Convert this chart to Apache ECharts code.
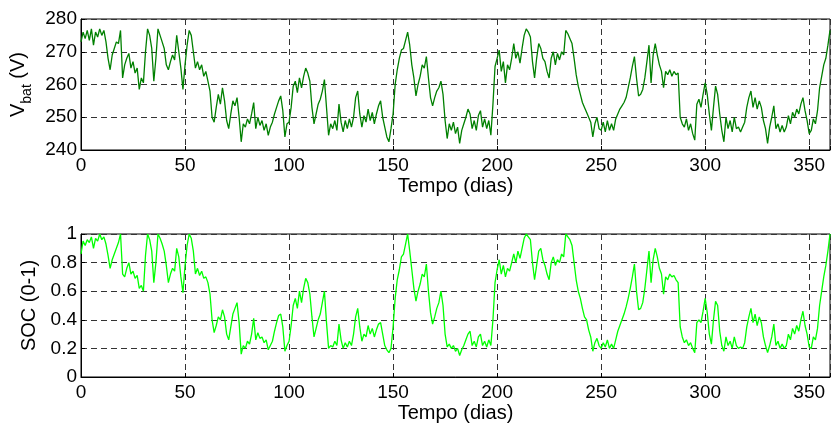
<!DOCTYPE html>
<html>
<head>
<meta charset="utf-8">
<script src="https://cdn.jsdelivr.net/npm/echarts@6/dist/echarts.min.js"></script>
<style>
html, body { margin: 0; padding: 0; background: #fff; }
#chart { width: 833px; height: 426px; }
</style>
</head>
<body>
<div id="chart"></div>
<script>
// tensão da bateria (V), um valor por dia, dia 0..360
var vbat = [
  273, 276, 274, 276.5, 273.5, 277, 272, 276, 274.5, 277,
  275, 276.5, 273, 268, 264.5, 269, 271, 273, 272.5, 276.5,
  262, 266, 268, 269.5, 265, 267, 263.5, 265, 258.5, 262,
  260.5, 270, 277, 275, 271, 261, 268, 277, 275, 273,
  271, 266, 264.5, 267, 269, 267.5, 275, 270, 265, 258.5,
  266, 272, 276.5, 275, 270, 265, 267, 264.5, 266, 262.5,
  264, 261, 258, 250, 248.5, 253, 257, 254, 259, 255,
  249, 246.5, 251, 255, 253.5, 256, 250, 242.5, 248, 247,
  249.5, 248, 251, 254.5, 246.5, 250, 247.5, 249, 246, 248,
  244.5, 247, 248.5, 251, 253, 255, 256.5, 252, 244, 248,
  248.5, 253, 259.5, 261, 257.5, 262, 259, 262.5, 265, 263.5,
  261, 253, 248, 251, 254, 255.5, 258, 261.5, 253, 244.5,
  248, 246.5, 249, 246, 254, 248.5, 245.5, 249, 246.5, 249.5,
  247, 250, 256, 258, 251, 247, 250.5, 248.5, 252.5, 249,
  251.5, 248, 251, 253.5, 255, 250, 247, 244, 242.5, 246.5,
  251, 260, 264.5, 268, 270.5, 271, 273.5, 276, 272, 266,
  262, 256.5, 260, 262.5, 266, 265, 268.5, 262, 256, 253.5,
  256, 258, 259, 261, 257, 249, 243.5, 248, 246, 248.5,
  245, 247, 242, 246, 248, 250, 252.5, 251, 246.5, 249,
  246, 250.5, 252, 247, 249.5, 246.5, 249, 244.5, 254, 265.5,
  268, 270.5, 264, 267, 260.5, 266, 264.5, 268, 272.5, 268,
  270, 266.5, 271, 275, 277, 276, 274.5, 267, 262, 268,
  272.5, 271, 268, 267, 264, 262, 268, 270, 266, 269.5,
  267.5, 270, 269, 276.5, 275.5, 274, 272.5, 268, 263, 259.5,
  257, 254.5, 253, 251.5, 250, 248.5, 244, 248, 250, 246.5,
  246, 248.5, 245.5, 249, 246, 248, 246, 249.5, 251, 252.5,
  253.5, 254.5, 256, 259, 262, 265.5, 268.5, 262, 256.5, 257,
  258.5, 262, 267, 272, 260.5, 269, 272.5, 269, 266, 264,
  259, 264, 263, 264.5, 262.5, 264, 263, 263.5, 250, 248,
  247, 249.5, 246, 248, 245, 243, 254, 255.5, 253, 257,
  260.5, 257, 251, 246, 253, 259.5, 257, 251, 246, 242.5,
  250, 246.5, 249, 245.5, 250, 246.5, 247, 245.5, 247, 248.5,
  253, 256, 258, 253, 256, 252.5, 255, 253, 249, 246.5,
  242, 247, 250, 253.5, 246.5, 248, 245.5, 247.5, 245.5, 247,
  250.5, 248, 251.5, 250, 252.5, 251, 254, 256, 252, 249,
  245, 246, 249.5, 248, 252, 259, 262.5, 266, 268, 272,
  276.5
];

// estado de carga (0-1), um valor por dia, dia 0..360
var soc = [
  0.86, 0.95, 0.92, 0.96, 0.94, 0.98, 0.90, 0.97, 0.95, 1.00,
  0.96, 0.98, 0.93, 0.85, 0.76, 0.82, 0.86, 0.90, 0.94, 1.00,
  0.72, 0.70, 0.76, 0.80, 0.72, 0.74, 0.69, 0.71, 0.62, 0.64,
  0.60, 0.85, 1.00, 0.96, 0.88, 0.66, 0.80, 1.00, 0.97, 0.93,
  0.88, 0.78, 0.66, 0.72, 0.76, 0.74, 0.90, 0.84, 0.70, 0.59,
  0.78, 0.92, 1.00, 0.97, 0.88, 0.72, 0.76, 0.71, 0.74, 0.69,
  0.70, 0.66, 0.58, 0.40, 0.31, 0.36, 0.42, 0.40, 0.47, 0.42,
  0.30, 0.26, 0.35, 0.44, 0.48, 0.52, 0.38, 0.16, 0.22, 0.20,
  0.25, 0.23, 0.30, 0.41, 0.26, 0.31, 0.27, 0.28, 0.24, 0.26,
  0.19, 0.22, 0.25, 0.32, 0.38, 0.43, 0.44, 0.35, 0.18, 0.22,
  0.25, 0.36, 0.50, 0.55, 0.48, 0.60, 0.52, 0.62, 0.69, 0.66,
  0.58, 0.42, 0.28, 0.34, 0.40, 0.44, 0.52, 0.60, 0.38, 0.20,
  0.22, 0.21, 0.25, 0.22, 0.37, 0.26, 0.20, 0.24, 0.21, 0.25,
  0.22, 0.30, 0.42, 0.48, 0.35, 0.25, 0.30, 0.28, 0.36, 0.30,
  0.34, 0.28, 0.33, 0.37, 0.38, 0.30, 0.22, 0.19, 0.17, 0.20,
  0.35, 0.55, 0.68, 0.75, 0.84, 0.86, 0.93, 1.00, 0.88, 0.75,
  0.62, 0.53, 0.60, 0.65, 0.72, 0.70, 0.79, 0.60, 0.45, 0.37,
  0.42, 0.48, 0.52, 0.60, 0.50, 0.30, 0.21, 0.23, 0.20, 0.22,
  0.18, 0.20, 0.15, 0.19, 0.22, 0.26, 0.30, 0.32, 0.22, 0.25,
  0.21, 0.28, 0.30, 0.22, 0.25, 0.21, 0.26, 0.22, 0.40, 0.66,
  0.75, 0.82, 0.72, 0.78, 0.70, 0.76, 0.74, 0.80, 0.86, 0.80,
  0.88, 0.83, 0.90, 0.97, 1.00, 0.98, 0.96, 0.80, 0.68, 0.78,
  0.88, 0.90, 0.82, 0.78, 0.72, 0.68, 0.80, 0.84, 0.78, 0.82,
  0.80, 0.86, 0.84, 1.00, 0.98, 0.96, 0.92, 0.80, 0.68, 0.60,
  0.55, 0.48, 0.42, 0.40, 0.33, 0.28, 0.18, 0.24, 0.27, 0.22,
  0.20, 0.24, 0.21, 0.26, 0.20, 0.23, 0.20, 0.26, 0.32, 0.36,
  0.40, 0.44, 0.49, 0.55, 0.62, 0.70, 0.79, 0.60, 0.47, 0.48,
  0.52, 0.62, 0.75, 0.88, 0.66, 0.82, 0.90, 0.84, 0.76, 0.72,
  0.58, 0.70, 0.68, 0.72, 0.70, 0.71, 0.68, 0.66, 0.35, 0.28,
  0.24, 0.26, 0.22, 0.24, 0.20, 0.17, 0.38, 0.40, 0.38, 0.46,
  0.55, 0.45, 0.30, 0.23, 0.40, 0.53, 0.50, 0.32, 0.22, 0.18,
  0.28, 0.22, 0.25, 0.20, 0.28, 0.22, 0.20, 0.21, 0.20, 0.24,
  0.35, 0.42, 0.48, 0.38, 0.44, 0.36, 0.42, 0.38, 0.28, 0.22,
  0.17, 0.22, 0.28, 0.37, 0.22, 0.25, 0.20, 0.23, 0.20, 0.22,
  0.30, 0.26, 0.34, 0.30, 0.36, 0.32, 0.40, 0.46, 0.36, 0.30,
  0.21, 0.20, 0.28, 0.26, 0.34, 0.50, 0.60, 0.70, 0.78, 0.88,
  1.00
];

var xTicks = [0, 360, 50];      // min, max, passo
var vTicks = [240, 280, 10];
var socTicks = [0, 1, 0.2];

var font = 'Liberation Sans, Arial, Helvetica, sans-serif';

function pares(arr) {
  return arr.map(function (v, i) { return [i, v]; });
}

function eixoX(idx) {
  return {
    gridIndex: idx,
    type: 'value',
    min: xTicks[0], max: xTicks[1], interval: xTicks[2],
    name: 'Tempo (dias)',
    nameLocation: 'middle',
    nameGap: 26,
    nameTextStyle: { fontFamily: font, fontSize: 20, color: '#000', lineHeight: 20 },
    axisLine: { lineStyle: { color: '#000', width: 1 } },
    axisTick: { inside: true, length: 4, lineStyle: { color: '#000' } },
    axisLabel: { fontFamily: font, fontSize: 19, color: '#000', margin: 6,
      formatter: function (v) { return v > 355 ? '' : v; } },
    splitLine: { show: true, lineStyle: { color: '#333', type: [6, 4], width: 1 } }
  };
}

var myChart = echarts.init(document.getElementById('chart'));
var option = {
  animation: false,
  backgroundColor: '#fff',
  grid: [
    { left: 81, right: 1, top: 19, height: 131, show: true, borderColor: '#000', borderWidth: 1 },
    { left: 81, right: 1, top: 234, height: 143, show: true, borderColor: '#000', borderWidth: 1 }
  ],
  xAxis: [eixoX(0), eixoX(1)],
  yAxis: [
    {
      gridIndex: 0,
      type: 'value',
      min: vTicks[0], max: vTicks[1], interval: vTicks[2],
      name: '{a|V}{b|bat}{a| (V)}',
      nameLocation: 'middle',
      nameRotate: 90,
      nameGap: 44,
      nameTextStyle: {
        rich: {
          a: { fontFamily: font, fontSize: 20, color: '#000', lineHeight: 20, verticalAlign: 'top' },
          b: { fontFamily: font, fontSize: 14, color: '#000', lineHeight: 14, verticalAlign: 'top', padding: [12, 0, 0, 0] }
        }
      },
      axisLine: { show: true, lineStyle: { color: '#000', width: 1 } },
      axisTick: { inside: true, length: 4, lineStyle: { color: '#000' } },
      axisLabel: { fontFamily: font, fontSize: 19, color: '#000', margin: 4 },
      splitLine: { show: true, lineStyle: { color: '#333', type: [6, 4], width: 1 } }
    },
    {
      gridIndex: 1,
      type: 'value',
      min: socTicks[0], max: socTicks[1], interval: socTicks[2],
      name: 'SOC (0-1)',
      nameLocation: 'middle',
      nameRotate: 90,
      nameGap: 39,
      nameTextStyle: { fontFamily: font, fontSize: 20, color: '#000', lineHeight: 20 },
      axisLine: { show: true, lineStyle: { color: '#000', width: 1 } },
      axisTick: { inside: true, length: 4, lineStyle: { color: '#000' } },
      axisLabel: { fontFamily: font, fontSize: 19, color: '#000', margin: 4,
        formatter: function (v) { return String(Math.round(v * 10) / 10); } },
      splitLine: { show: true, lineStyle: { color: '#333', type: [6, 4], width: 1 } }
    }
  ],
  series: [
    {
      type: 'line', xAxisIndex: 0, yAxisIndex: 0,
      data: pares(vbat), showSymbol: false, symbol: 'none',
      lineStyle: { color: '#008000', width: 1.3 }
    },
    {
      type: 'line', xAxisIndex: 1, yAxisIndex: 1,
      data: pares(soc), showSymbol: false, symbol: 'none',
      lineStyle: { color: '#00ff00', width: 1.3 }
    }
  ]
};
myChart.setOption(option);
</script>
</body>
</html>
